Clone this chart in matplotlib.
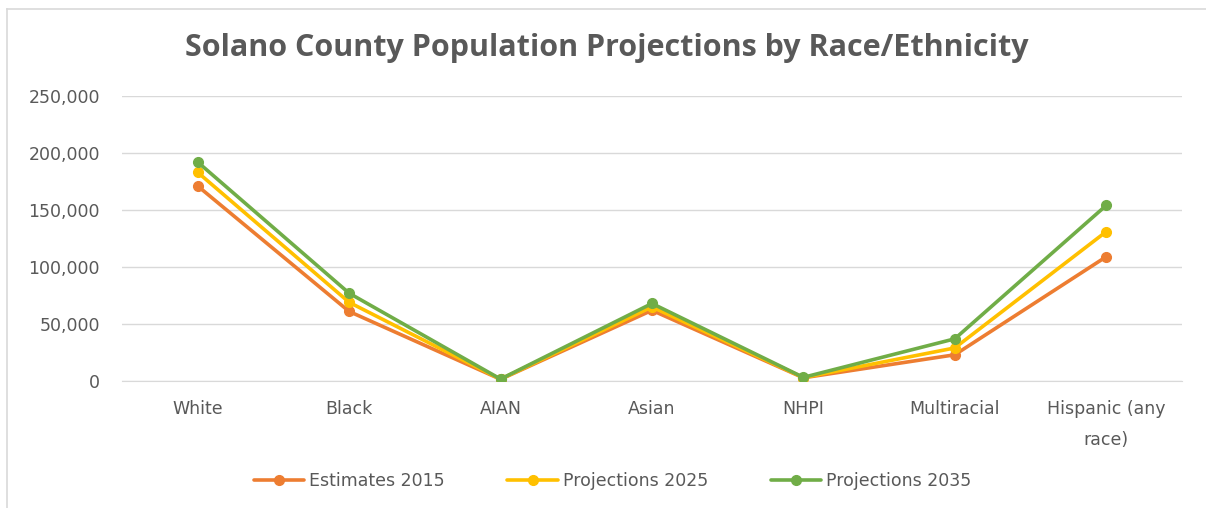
import matplotlib
matplotlib.use("Agg")
import matplotlib.pyplot as plt
from matplotlib.lines import Line2D
from matplotlib.ticker import FuncFormatter

categories = ["White", "Black", "AIAN", "Asian", "NHPI", "Multiracial", "Hispanic (any\nrace)"]
estimates_2015 = [171000, 61000, 1500, 62000, 2800, 23000, 109000]
projections_2025 = [183000, 69000, 1600, 65000, 3000, 29000, 131000]
projections_2035 = [192000, 77000, 1700, 68000, 3200, 37000, 154000]
yticks = [0, 50000, 100000, 150000, 200000, 250000]

series = [
    ("Estimates 2015", estimates_2015, "#ED7D31"),
    ("Projections 2025", projections_2025, "#FFC000"),
    ("Projections 2035", projections_2035, "#70AD47"),
]

text_color = "#595959"
grid_color = "#D9D9D9"

fig = plt.figure(figsize=(12.06, 5.08), dpi=100)
ax = fig.add_axes([0.1012, 0.25, 0.8788, 0.561])

x = range(len(categories))
for label, values, color in series:
    ax.plot(x, values, color=color, linewidth=2.6, marker="o", markersize=7,
            label=label, solid_capstyle="round", zorder=3)

ax.set_xlim(-0.5, len(categories) - 0.5)
ax.set_ylim(0, 250000)
ax.set_yticks(yticks)
ax.yaxis.set_major_formatter(FuncFormatter(lambda v, _: f"{int(v):,}"))
ax.set_xticks(list(x))
ax.set_xticklabels(categories, linespacing=1.9)

ax.grid(axis="y", color=grid_color, linewidth=1)
ax.set_axisbelow(True)
for side in ["top", "right", "left"]:
    ax.spines[side].set_visible(False)
ax.spines["bottom"].set_color(grid_color)
ax.tick_params(axis="both", length=0, colors=text_color, labelsize=12.5)
ax.tick_params(axis="y", pad=16)
ax.tick_params(axis="x", pad=14)

fig.text(0.503, 0.905, "Solano County Population Projections by Race/Ethnicity",
         ha="center", va="center", fontsize=22, fontweight="bold",
         color=text_color, family="Open Sans")

fig.legend(loc="center", bbox_to_anchor=(0.508, 0.053), ncol=3, frameon=False,
           fontsize=12.5, labelcolor=text_color, handlelength=2.9,
           handletextpad=0.3, columnspacing=3.6)

# chart area border (left and top edges)
fig.add_artist(Line2D([7 / 1206, 7 / 1206], [0, 1 - 9 / 508],
                      transform=fig.transFigure, color="#D9D9D9", linewidth=1.2))
fig.add_artist(Line2D([7 / 1206, 1], [1 - 9 / 508, 1 - 9 / 508],
                      transform=fig.transFigure, color="#D9D9D9", linewidth=1.2))

fig.savefig("out.png", dpi=100, facecolor="white")
